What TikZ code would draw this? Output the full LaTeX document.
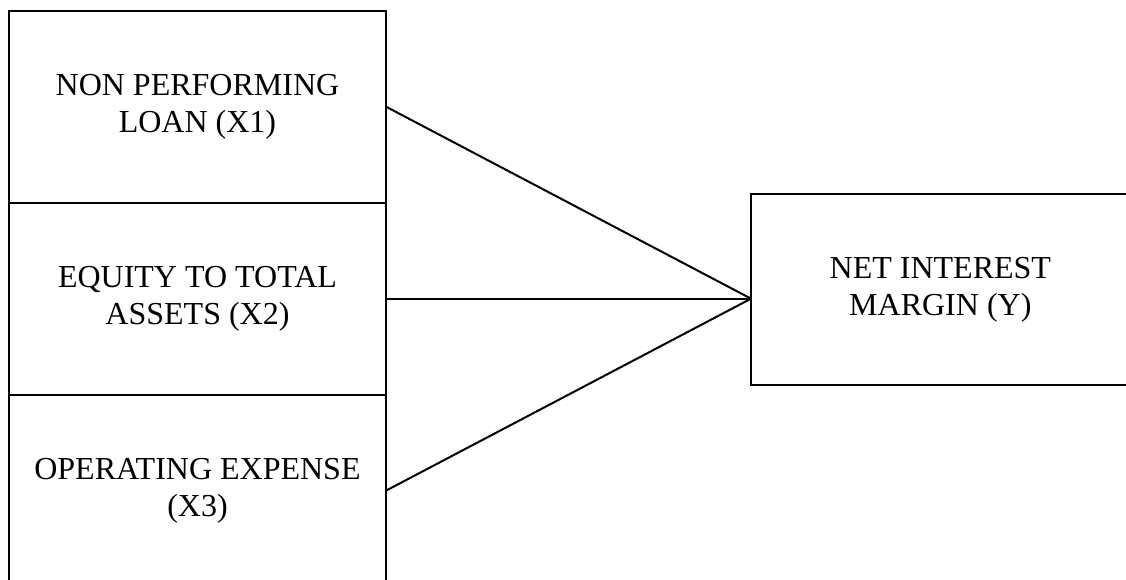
\documentclass[tikz,border=0pt]{standalone}
\usepackage{fontspec}
\setmainfont{Liberation Serif}
\usepackage{tikz}
\usetikzlibrary{positioning}

\begin{document}
\begin{tikzpicture}[
  node distance=0pt,
  var/.style={draw=black, line width=1.5pt, outer sep=0pt, minimum width=282.75pt, minimum height=144pt, align=center, font=\fontsize{24pt}{27.75pt}\selectfont},
  dep/.style={var, minimum width=284pt, minimum height=143.25pt},
  link/.style={black, line width=1.5pt}
]
\useasboundingbox (0,0) rectangle (844.5pt,-435pt);
\clip (0,0) rectangle (844.5pt,-435pt);

\node[var] (x1) at (148.1pt,-80pt) {NON PERFORMING\\LOAN (X1)};
\node[var, below=of x1] (x2) {EQUITY TO TOTAL\\ASSETS (X2)};
\node[var, below=of x2] (x3) {OPERATING EXPENSE\\(X3)};

\node[dep] (y) at (705.25pt,-217.1pt) {NET INTEREST\\MARGIN (Y)};
\coordinate (hub) at (y.west |- x2.east);

\draw[link] (x1.east) -- (hub);
\draw[link] (x2.east) -- (hub);
\draw[link] (x3.east) -- (hub);
\end{tikzpicture}
\end{document}
